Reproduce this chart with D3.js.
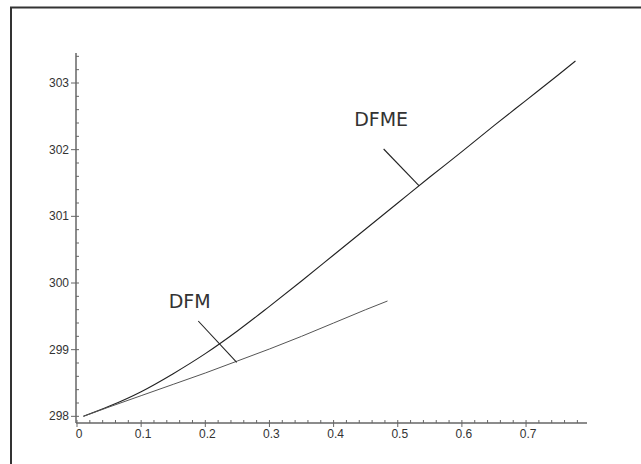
<!DOCTYPE html>
<html lang="en">
<head>
  <meta charset="UTF-8">
  <title>DFM vs DFME</title>
  <script src="https://d3js.org/d3.v7.min.js"></script>
  <style>
    body { margin: 0; background: #fff; }
    .line { fill: none; }
    .dfme { stroke: #222; stroke-width: 1.1; }
    .dfm { stroke: #555; stroke-width: 1; }
    .pointer { stroke: #222; stroke-width: 1.1; }
    .axis path, .axis line { stroke: #666; }
    .axis text { font-family: "Liberation Sans", Arial, sans-serif; font-size: 12px; fill: #333; }
    .label { font-family: "DejaVu Sans", sans-serif; font-size: 19px; fill: #333; }
  </style>
</head>
<body>
  <script>
    // data
    const dfmeX = [0.01, 0.05, 0.1, 0.15, 0.2, 0.25, 0.3, 0.35, 0.4, 0.45, 0.5, 0.55, 0.6, 0.65, 0.7, 0.75, 0.777];
    const dfmeY = [298.0, 298.15, 298.37, 298.64, 298.94, 299.28, 299.65, 300.03, 300.42, 300.81, 301.2, 301.59, 301.97, 302.36, 302.74, 303.12, 303.33];
    const dfmX = [0.01, 0.05, 0.1, 0.15, 0.2, 0.25, 0.3, 0.35, 0.4, 0.45, 0.484];
    const dfmY = [298.0, 298.14, 298.31, 298.48, 298.65, 298.83, 299.01, 299.2, 299.4, 299.6, 299.73];

    const xTicks = [0, 0.1, 0.2, 0.3, 0.4, 0.5, 0.6, 0.7];
    const yTicks = [298, 299, 300, 301, 302, 303];

    // curve labels and their pointer lines, in data units
    const labelNames = ['DFM', 'DFME'];
    const labelAt = [[0.143, 299.62], [0.432, 302.36]];
    const pointerFrom = [[0.189, 299.43], [0.478, 302.01]];
    const pointerTo = [[0.249, 298.81], [0.533, 301.46]];

    const W = 641, H = 464;

    const x = d3.scaleLinear().domain([0, 0.795]).range([77, 587]);
    const y = d3.scaleLinear().domain([297.9, 303.45]).range([423, 53]);

    const svg = d3.select('body').append('svg')
      .attr('width', W)
      .attr('height', H);

    // frame (only top and left show inside the window)
    svg.append('path')
      .attr('d', `M11,${H + 5} L11,7.5 L${W + 5},7.5`)
      .attr('fill', 'none')
      .attr('stroke', '#333')
      .attr('stroke-width', 2);

    // x axis: majors hang down, minors point up
    const xMinor = d3.range(0, 0.79, 0.02).filter(v => Math.abs(v * 10 - Math.round(v * 10)) > 1e-6);
    const xAxis = svg.append('g').attr('class', 'axis')
      .attr('transform', `translate(0,${y(297.9)})`);
    xAxis.append('path').attr('d', `M${x(0) - 1},0H${x(0.795)}`).attr('stroke-width', 1.5);
    xAxis.selectAll('.minor').data(xMinor).enter().append('line')
      .attr('x1', d => x(d)).attr('x2', d => x(d))
      .attr('y1', 0).attr('y2', -3);
    xAxis.selectAll('.major').data(xTicks).enter().append('line')
      .attr('x1', d => x(d)).attr('x2', d => x(d))
      .attr('y1', -3).attr('y2', 4);
    xAxis.selectAll('text').data(xTicks).enter().append('text')
      .attr('x', d => x(d) + 2)
      .attr('y', 15)
      .attr('text-anchor', 'middle')
      .text(d => d);

    // y axis: majors point left, minors point right
    const yMinor = d3.range(298, 303.45, 0.2).filter(v => Math.abs(v - Math.round(v)) > 1e-6);
    const yAxis = svg.append('g').attr('class', 'axis')
      .attr('transform', `translate(${x(0) - 1},0)`);
    yAxis.append('path').attr('d', `M0,${y(297.9)}V${y(303.45)}`).attr('stroke-width', 1.5);
    yAxis.selectAll('.minor').data(yMinor).enter().append('line')
      .attr('x1', 0).attr('x2', 3)
      .attr('y1', d => y(d)).attr('y2', d => y(d));
    yAxis.selectAll('.major').data(yTicks).enter().append('line')
      .attr('x1', -5).attr('x2', 3)
      .attr('y1', d => y(d)).attr('y2', d => y(d));
    yAxis.selectAll('text').data(yTicks).enter().append('text')
      .attr('x', -7)
      .attr('y', d => y(d) + 4)
      .attr('text-anchor', 'end')
      .text(d => d);

    // curves
    const line = d3.line()
      .x(d => x(d[0]))
      .y(d => y(d[1]))
      .curve(d3.curveMonotoneX);

    svg.append('path')
      .datum(dfmeX.map((v, i) => [v, dfmeY[i]]))
      .attr('class', 'line dfme')
      .attr('d', line);

    svg.append('path')
      .datum(dfmX.map((v, i) => [v, dfmY[i]]))
      .attr('class', 'line dfm')
      .attr('d', line);

    // labels with pointers
    labelNames.forEach((name, i) => {
      svg.append('line').attr('class', 'pointer')
        .attr('x1', x(pointerFrom[i][0])).attr('y1', y(pointerFrom[i][1]))
        .attr('x2', x(pointerTo[i][0])).attr('y2', y(pointerTo[i][1]));
      svg.append('text').attr('class', 'label')
        .attr('x', x(labelAt[i][0]))
        .attr('y', y(labelAt[i][1]))
        .text(name);
    });
  </script>
</body>
</html>
